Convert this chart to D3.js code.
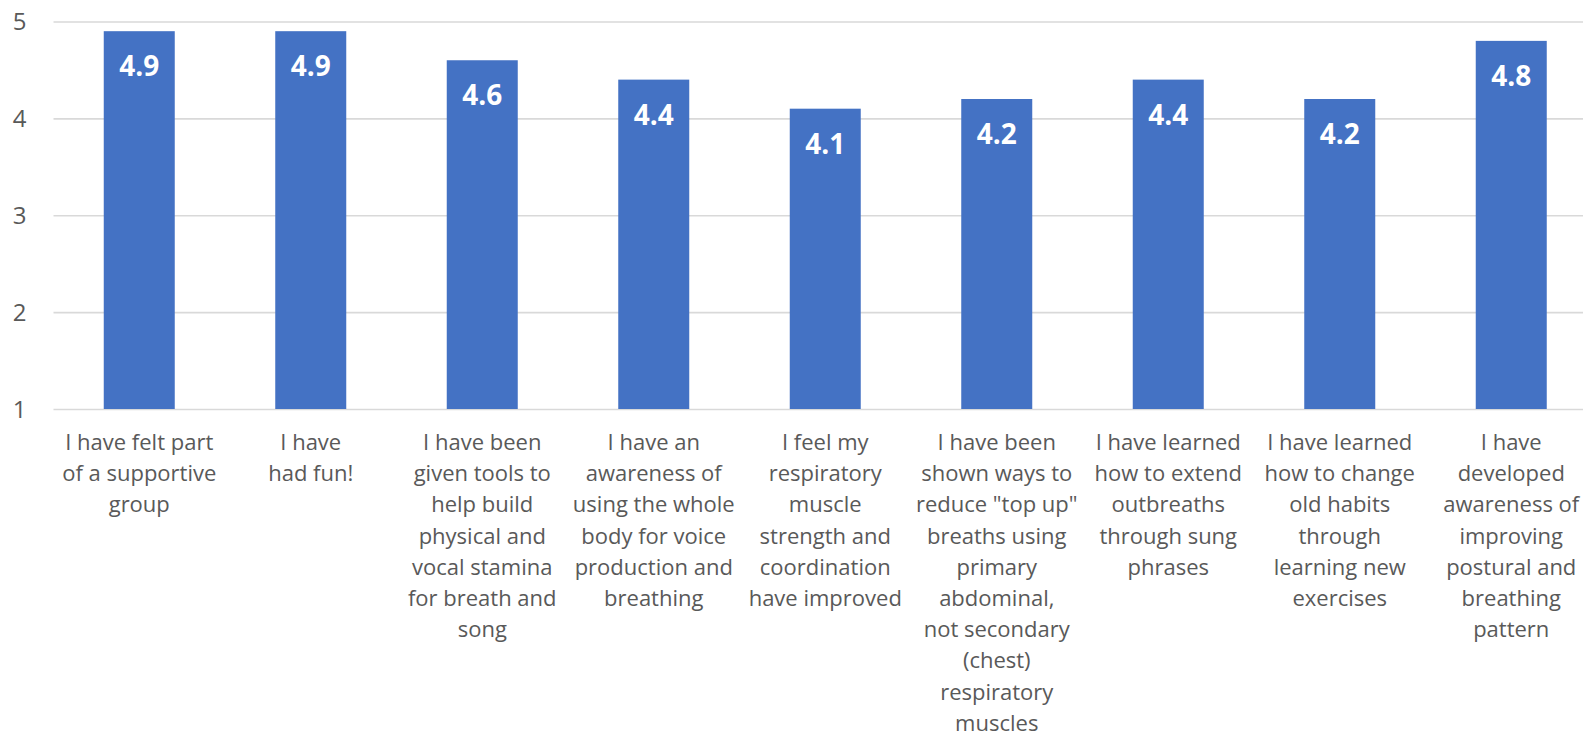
<!DOCTYPE html>
<html>
<head>
<meta charset="utf-8">
<script src="https://cdn.jsdelivr.net/npm/d3@7"></script>
<style>
  html, body { margin: 0; padding: 0; background: #fff; }
  svg { display: block; }
</style>
</head>
<body>
<svg id="chart" width="1583" height="738"></svg>
<script>
// Survey statements (line breaks as in the axis labels) and mean scores
const categories = [
  "I have felt part\nof a supportive\ngroup",
  "I have\nhad fun!",
  "I have been\ngiven tools to\nhelp build\nphysical and\nvocal stamina\nfor breath and\nsong",
  "I have an\nawareness of\nusing the whole\nbody for voice\nproduction and\nbreathing",
  "I feel my\nrespiratory\nmuscle\nstrength and\ncoordination\nhave improved",
  "I have been\nshown ways to\nreduce \"top up\"\nbreaths using\nprimary\nabdominal,\nnot secondary\n(chest)\nrespiratory\nmuscles",
  "I have learned\nhow to extend\noutbreaths\nthrough sung\nphrases",
  "I have learned\nhow to change\nold habits\nthrough\nlearning new\nexercises",
  "I have\ndeveloped\nawareness of\nimproving\npostural and\nbreathing\npattern"
];
const scores = [4.9, 4.9, 4.6, 4.4, 4.1, 4.2, 4.4, 4.2, 4.8];
const yTicks = [1, 2, 3, 4, 5];

const svg = d3.select("#chart");
const plot = { left: 53.5, right: 1597, top: 21.5, bottom: 409 };

const x = d3.scaleBand()
  .domain(categories)
  .range([plot.left, plot.right])
  .paddingInner(0.586)
  .paddingOuter(0.293);

const y = d3.scaleLinear()
  .domain([1, 5])
  .range([plot.bottom, plot.top]);

const font = "'Open Sans', 'Noto Sans', sans-serif";

// Horizontal gridlines
const yAxis = d3.axisLeft(y)
  .tickValues(yTicks)
  .tickSize(-(plot.right - plot.left))
  .tickPadding(27)
  .tickFormat(d3.format("d"));

const gy = svg.append("g")
  .attr("transform", `translate(${plot.left},0)`)
  .call(yAxis);
gy.select(".domain").remove();
gy.selectAll(".tick line")
  .attr("stroke", "#d9d9d9")
  .attr("stroke-width", 1.6);
gy.selectAll(".tick text")
  .attr("fill", "#595959")
  .attr("font-family", font)
  .attr("font-size", 24)
  .attr("dy", "0.35em");

// Bars
svg.append("g").selectAll("rect")
  .data(scores)
  .join("rect")
  .attr("x", (d, i) => x(categories[i]))
  .attr("y", d => y(d))
  .attr("width", x.bandwidth())
  .attr("height", d => y(1) - y(d))
  .attr("fill", "#4472c4");

// Value labels inside the bars
svg.append("g").selectAll("text")
  .data(scores)
  .join("text")
  .attr("x", (d, i) => x(categories[i]) + x.bandwidth() / 2)
  .attr("y", d => y(d) + 45)
  .attr("text-anchor", "middle")
  .attr("fill", "#ffffff")
  .attr("font-family", font)
  .attr("font-weight", 700)
  .attr("font-size", 28)
  .text(d => d3.format(".1f")(d));

// Category labels, wrapped
const xAxis = d3.axisBottom(x).tickSize(0).tickFormat("");
const gx = svg.append("g")
  .attr("transform", `translate(0,${plot.bottom})`)
  .call(xAxis);
gx.select(".domain").remove();

gx.selectAll(".tick").each(function(d) {
  const t = d3.select(this).select("text")
    .attr("fill", "#595959")
    .attr("font-family", font)
    .attr("font-size", 22)
    .attr("text-anchor", "middle")
    .attr("y", 0)
    .attr("dy", null);
  d.split("\n").forEach((line, k) => {
    t.append("tspan")
      .attr("x", 0)
      .attr("y", 41 + k * 31.2)
      .text(line);
  });
});
</script>
</body>
</html>
